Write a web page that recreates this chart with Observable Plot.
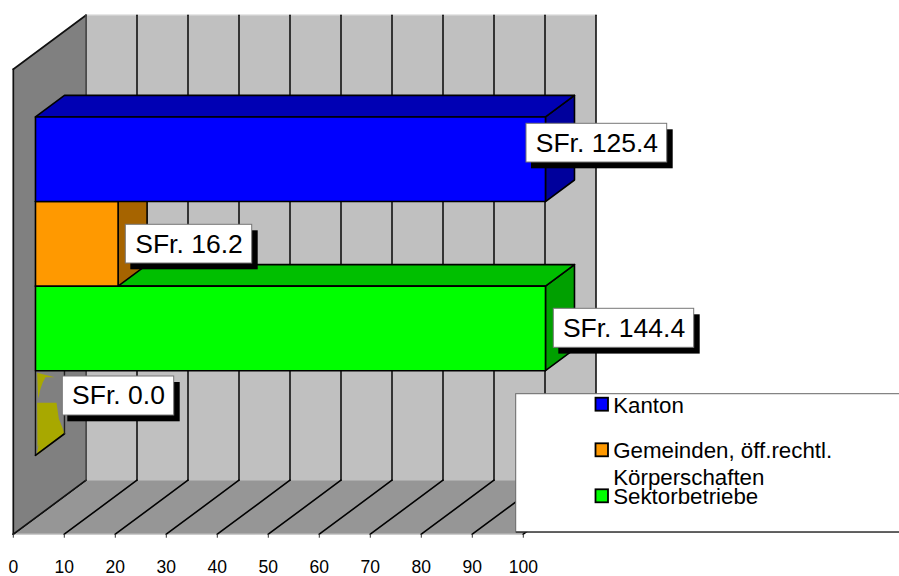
<!DOCTYPE html>
<html>
<head>
<meta charset="utf-8">
<style>html,body{margin:0;padding:0;background:#fff}svg{display:block}</style>
<script src="https://cdn.jsdelivr.net/npm/d3@7"></script>
<script src="https://cdn.jsdelivr.net/npm/@observablehq/plot@0.6"></script>
</head>
<body>
<div id="chart"></div>
<script>
// Data, bottom slot last
const categories = ["Kanton", "Gemeinden, öff.rechtl. Körperschaften", "Sektorbetriebe", ""];
const values = [125.4, 16.2, 144.4, 0.0];
const frontColors = ["#0000ff", "#ff9900", "#00ff00", "#a8a800"];
const topColors = ["#0000b4", "#b06b00", "#00bf00", "#8a8a00"];
const sideColors = ["#00009c", "#a66400", "#00a000", "#808000"];
const xTicks = [0, 10, 20, 30, 40, 50, 60, 70, 80, 90, 100];

// Layout of the oblique 3-D box, x in axis units, y in pixels above the floor edge
const W = 899, H = 576, X0 = 12.8, UNIT = 5.1, FLOOR = 533.7;
const DEPTH_X = 72.7 / UNIT, DEPTH_Y = 54, WALL = 465;
const BAR_D0 = 0.305, BAR_D1 = 0.704, BAR_TOP = 400.8, SLOT = 84.6;
const P = (v, level, d) => ({x: v + d * DEPTH_X, y: level + d * DEPTH_Y});
const px = (p) => (p - X0) / UNIT;
const py = (p) => FLOOR - p;
const poly = (pts, fill, stroke = "none", strokeWidth = 1.6) =>
  Plot.line(pts, {x: "x", y: "y", curve: "linear-closed", fill, stroke, strokeWidth, strokeLinejoin: "round"});
const seg = (a, b, stroke = "#000", strokeWidth = 1.6) =>
  Plot.line([a, b], {x: "x", y: "y", stroke, strokeWidth});

const marks = [];
// back wall, floor, left wall
marks.push(poly([P(0,0,1), P(100,0,1), P(100,WALL,1), P(0,WALL,1)], "#c0c0c0"));
marks.push(seg(P(0,WALL,1), P(100,WALL,1), "#d0d0d0", 1.2));
marks.push(poly([P(0,0,0), P(100,0,0), P(100,0,1), P(0,0,1)], "#969696"));
marks.push(seg(P(0,0,0), P(100,0,0), "#c4c4c4", 1.2));
for (const t of xTicks) {
  marks.push(seg(P(t,0,1), P(t,WALL,1), t === 0 ? "#444" : "#111"));
  marks.push(seg(P(t,0,0), P(t,0,1)));
}
marks.push(poly([P(0,0,0), P(0,0,1), P(0,WALL,1), P(0,WALL,0)], "#808080"));
marks.push(seg(P(0,0,0), P(0,WALL,0), "#111", 1.7));
marks.push(seg(P(0,WALL,0), P(0,WALL,1), "#111", 1.7));
marks.push(seg(P(0,0,0), P(0,0,1), "#111", 1.6));
marks.push(seg(P(0,0,1), P(0,WALL,1), "#444", 1.4));

// bars, lowest slot first so upper ones overlap
for (let i = values.length - 1; i >= 0; i--) {
  const v = Math.min(values[i], 100);
  const top = BAR_TOP - i * SLOT, bot = top - SLOT;
  if (v === 0) {
    // zero-length bar: only its broken end cap shows
    const outline = [P(0,bot,BAR_D0), P(0,top,BAR_D0), P(0,top,BAR_D1), P(0,bot,BAR_D1)];
    marks.push(poly(outline, "#808080"));
    const sx = (z) => px(25 + z / 3), sy = (z) => py(365 + z / 3);
    const shape = (a) => a.map(([x, y]) => ({x: sx(x), y: sy(y)}));
    marks.push(poly(shape([[35,22],[58,28],[88,35],[60,35],[52,50],[45,70],[38,100]]), frontColors[i]));
    marks.push(poly(shape([[35,112],[93,112],[100,160],[118,205],[33,270],[40,235],[36,245]]), frontColors[i]));
    marks.push(seg(outline[0], outline[1], "#111", 1.4));
    marks.push(seg(outline[0], outline[3], "#000", 1.7));
    marks.push(seg(outline[2], outline[3], "#222", 1.4));
    continue;
  }
  marks.push(poly([P(v,bot,BAR_D0), P(v,top,BAR_D0), P(v,top,BAR_D1), P(v,bot,BAR_D1)], sideColors[i], "#000"));
  marks.push(poly([P(0,top,BAR_D0), P(v,top,BAR_D0), P(v,top,BAR_D1), P(0,top,BAR_D1)], topColors[i], "#000"));
  marks.push(poly([P(0,bot,BAR_D0), P(v,bot,BAR_D0), P(v,top,BAR_D0), P(0,top,BAR_D0)], frontColors[i], "#000"));
}

// data labels: left, top, right, bottom of each white box, in pixels
const labelBoxes = [[526, 123.3, 666.7, 162], [125.3, 224.3, 251.7, 263], [553.3, 308.3, 693.7, 347.3], [62.3, 376, 173.7, 415]];
values.forEach((val, i) => {
  const [l, t, r, b] = labelBoxes[i];
  marks.push(Plot.rect([0], {x1: px(l + 5), x2: px(r + 6), y1: py(t + 6), y2: py(b + 6.3), fill: "#000"}));
  marks.push(Plot.rect([0], {x1: px(l), x2: px(r), y1: py(t), y2: py(b), fill: "#fff", stroke: "#777", strokeWidth: 1}));
  marks.push(Plot.text([`SFr. ${val.toFixed(1)}`], {
    x: px((l + r) / 2), y: py((t + b) / 2), text: (d) => d,
    fontFamily: "Liberation Sans", fontSize: 26.5, fill: "#000", textAnchor: "middle", lineAnchor: "middle"
  }));
});

// legend
marks.push(Plot.rect([0], {x1: px(515.7), x2: px(905), y1: py(393.7), y2: py(531.7), fill: "#fff", stroke: "#666", strokeWidth: 1}));
marks.push(seg({x: px(515.7), y: py(531.7)}, {x: px(899), y: py(531.7)}, "#222", 1));
const legendSwatchY = [397.7, 443.3, 489.3];
const legendLines = [
  [["Kanton", 412.7]],
  [["Gemeinden, öff.rechtl.", 457.7], ["Körperschaften", 484]],
  [["Sektorbetriebe", 503.3]]
];
legendLines.forEach((lines, i) => {
  const sy = legendSwatchY[i];
  marks.push(Plot.rect([0], {x1: px(595.5), x2: px(608), y1: py(sy), y2: py(sy + 13), fill: frontColors[i], stroke: "#000", strokeWidth: 1.8}));
  for (const [txt, base] of lines) {
    marks.push(Plot.text([txt], {
      x: px(612.7), y: py(base), text: (d) => d,
      fontFamily: "Liberation Sans", fontSize: 22.3, fill: "#000", textAnchor: "start", lineAnchor: "bottom", dy: 0
    }));
  }
});

// value axis
marks.push(Plot.axisX(xTicks, {
  anchor: "bottom", tickSize: 4, tickPadding: 22, label: null, stroke: "#333",
  fontFamily: "Liberation Sans", fontSize: 17.5, tickFormat: (d) => String(d)
}));

const chart = Plot.plot({
  width: W, height: H,
  marginLeft: X0, marginRight: W - X0 - 100 * UNIT, marginTop: 0, marginBottom: H - FLOOR,
  x: {domain: [0, 100], axis: null},
  y: {domain: [0, FLOOR], axis: null},
  style: {background: "#fff", color: "#000", overflow: "hidden"},
  marks
});
document.getElementById("chart").append(chart);
</script>
</body>
</html>
